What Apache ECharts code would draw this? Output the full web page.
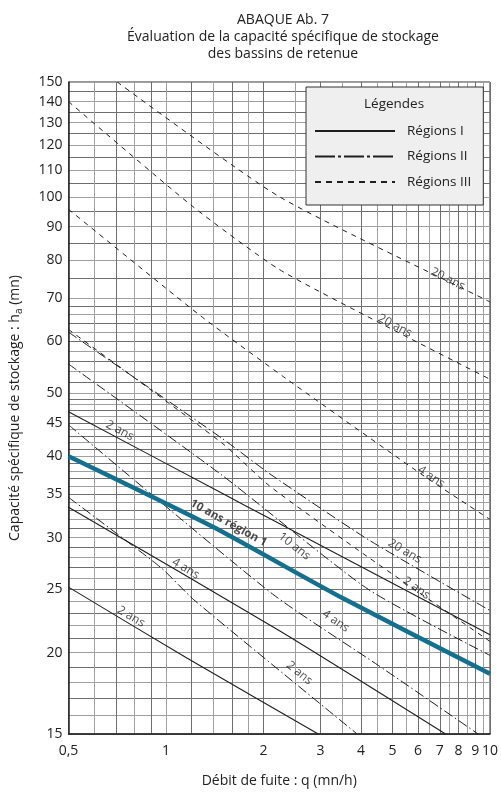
<!DOCTYPE html>
<html><head><meta charset="utf-8">
<script src="https://cdn.jsdelivr.net/npm/echarts@6/dist/echarts.min.js"></script>
<style>html,body{margin:0;padding:0;background:#fff}#c{width:501px;height:793px}</style>
</head><body><div id="c"></div>
<script>
// ---- tick labels ----
const xLabels = [0.5, 1, 2, 3, 4, 5, 6, 7, 8, 9, 10];
const yLabels = [15, 20, 25, 30, 35, 40, 45, 50, 60, 70, 80, 90, 100, 110, 120, 130, 140, 150];
// ---- grid lines ----
const xGrid = [0.5, 0.6, 0.7, 0.8, 0.9, 1, 1.2, 1.4, 1.6, 1.8, 2, 2.5, 3, 3.5, 4, 4.5, 5, 5.5, 6, 6.5, 7, 7.5, 8, 8.5, 9, 9.5, 10];
const yGrid = [15, 16, 17, 18, 19, 20, 21, 22, 23, 24, 25, 26, 27, 28, 29, 30, 31, 32, 33, 34, 35, 36, 37, 38, 39, 40,
  41, 42, 43, 44, 45, 46, 47, 48, 49, 50, 52, 54, 56, 58, 60, 62, 64, 66, 68, 70, 75, 80, 85, 90, 95, 100,
  105, 110, 115, 120, 125, 130, 135, 140, 145, 150];

// ---- curves : [q (mn/h), h_a (mn)] ----
// Régions I (solid)
const r1_2ansUpper = [[0.5, 46.8], [1.49, 35.1], [2.09, 32.1], [10, 21.3]];
const r1_10ans = [[0.5, 40], [1.39, 31.2], [3.42, 24.4], [10, 18.56]];
const r1_4ans = [[0.5, 33.4], [2.24, 21.6], [7.29, 15]];
const r1_2ans = [[0.5, 25.2], [1.163, 19.6], [2.95, 15]];
// Régions II (dash-dot)
const r2_20ans = [[0.5, 62.0], [1.49, 42.6], [2.09, 37.6], [4.21, 29.8], [10, 23.2]];
const r2_10ans = [[0.5, 55.4], [1.49, 37.4], [4.21, 25.0], [10, 19.8]];
const r2_4ans = [[0.5, 44.7], [2.13, 24.6], [4.53, 19.1], [9.19, 15]];
const r2_2ans = [[0.5, 34.6], [0.964, 27.0], [1.218, 24.1], [3.89, 15]];
// Régions III (dashed)
const r3_20ansA = [[0.707, 150], [2.225, 100.2], [9.82, 69.3], [10, 69.0]];
const r3_20ansB = [[0.5, 140], [1.204, 96.8], [2.215, 77.6], [4.53, 64.2], [10, 52.5]];
const r3_4ans = [[0.5, 95.7], [1.277, 65.7], [2.35, 52.6], [6.21, 37.4], [10, 32.0]];
const r3_2ans = [[0.5, 62.6], [1.49, 41.9], [2.09, 36.0], [4.21, 28.0], [10, 20.8]];

// ---- curve labels : [q, h, text, curve] ----
const curveLabels = [
  [7.41, 74.8, '20 ans', 'r3_20ansA'],
  [5.09, 63.4, '20 ans', 'r3_20ansB'],
  [6.59, 37.2, '4 ans', 'r3_4ans'],
  [0.72, 43.8, '2 ans', 'r1_2ansUpper'],
  [2.49, 29.1, '10 ans', 'r2_10ans'],
  [5.46, 28.6, '20 ans', 'r2_20ans'],
  [5.93, 25.1, '2 ans', 'r3_2ans'],
  [1.56, 31.6, '10 ans région 1', 'r1_10ans'],
  [1.15, 26.9, '4 ans', 'r1_4ans'],
  [3.34, 22.35, '4 ans', 'r2_4ans'],
  [0.78, 22.7, '2 ans', 'r1_2ans'],
  [2.58, 18.6, '2 ans', 'r2_2ans']
];

const INK = '#1e1e1e';
const BLUE = '#127190';
const DASHDOT = [10, 3, 1.5, 3];
const DASH = [5, 5];
const curveDefs = [
  ['r1_2ansUpper', r1_2ansUpper, 'Régions I'],
  ['r1_4ans', r1_4ans, 'Régions I'],
  ['r1_2ans', r1_2ans, 'Régions I'],
  ['r2_20ans', r2_20ans, 'Régions II'],
  ['r2_10ans', r2_10ans, 'Régions II'],
  ['r2_4ans', r2_4ans, 'Régions II'],
  ['r2_2ans', r2_2ans, 'Régions II'],
  ['r3_20ansA', r3_20ansA, 'Régions III'],
  ['r3_20ansB', r3_20ansB, 'Régions III'],
  ['r3_4ans', r3_4ans, 'Régions III'],
  ['r3_2ans', r3_2ans, 'Régions III'],
  ['r1_10ans', r1_10ans, 'blue']
];
const curveByKey = {};
curveDefs.forEach(d => curveByKey[d[0]] = d[1]);

function styleFor(region) {
  if (region === 'Régions I') return { color: INK, width: 1.1, type: 'solid' };
  if (region === 'Régions II') return { color: INK, width: 1, type: DASHDOT };
  if (region === 'Régions III') return { color: INK, width: 1, type: DASH };
  return { color: BLUE, width: 4.5, type: 'solid' };
}

function fmt(v) {
  const r = Math.round(v * 10) / 10;
  return String(r).replace('.', ',');
}

const FONT = 'Open Sans';
function buildOption(rotations) {
  const series = curveDefs.map(d => ({
    type: 'line',
    name: d[2] === 'blue' ? '10 ans région 1' : d[2],
    data: d[1],
    smooth: 0.2,
    symbol: 'none',
    silent: true,
    clip: true,
    lineStyle: styleFor(d[2]),
    itemStyle: { color: d[2] === 'blue' ? BLUE : INK },
    z: d[2] === 'blue' ? 4 : 3
  }));
  series.push({
    type: 'scatter',
    name: 'labels',
    symbolSize: 0,
    silent: true,
    z: 6,
    data: curveLabels.map((l, i) => ({
      value: [l[0], l[1]],
      label: {
        show: true, position: 'inside', formatter: l[2],
        rotate: rotations ? rotations[i] : 0,
        fontWeight: l[2].indexOf('région') >= 0 ? 'bold' : 'normal',
        fontSize: l[2].indexOf('région') >= 0 ? 11.5 : 12
      }
    })),
    label: { show: true, color: '#222', fontSize: 12, fontFamily: FONT }
  });
  return {
    animation: false,
    backgroundColor: '#fff',
    title: {
      text: 'ABAQUE Ab. 7\nÉvaluation de la capacité spécifique de stockage\ndes bassins de retenue',
      left: 278, top: 7, textAlign: 'center',
      textStyle: { fontFamily: FONT, fontSize: 14, fontWeight: 'normal', color: '#222', lineHeight: 17 }
    },
    legend: {
      orient: 'vertical', left: 306, top: 87,
      padding: [37, 12, 16, 8], itemGap: 11.5, itemWidth: 80, itemHeight: 14,
      backgroundColor: '#efefef', borderColor: '#333', borderWidth: 1,
      itemStyle: { opacity: 0, color: 'rgba(0,0,0,0)', borderWidth: 0 },
      textStyle: { fontFamily: FONT, fontSize: 13.5, color: '#222', padding: [0, 0, 0, 7] },
      data: [
        { name: 'Régions I', lineStyle: { width: 2 } },
        { name: 'Régions II', lineStyle: { type: [20, 3, 3, 3] } },
        { name: 'Régions III', lineStyle: { type: [6, 5] } }
      ],
      selectedMode: false, z: 10
    },
    graphic: [{
      type: 'text', left: 364, top: 97, z: 100,
      style: { text: 'Légendes', fontFamily: FONT, fontSize: 13.5, fill: '#222' }
    }],
    grid: { left: 67, right: 8, top: 82, bottom: 56, show: true, borderColor: '#333', borderWidth: 1, backgroundColor: 'transparent' },
    xAxis: {
      type: 'log', logBase: 10, min: 0.5, max: 10,
      name: 'Débit de fuite : q (mn/h)', nameLocation: 'middle', nameGap: 40,
      nameTextStyle: { fontFamily: FONT, fontSize: 14, color: '#222' },
      axisLine: { show: true, lineStyle: { color: '#222', width: 1.5 } },
      axisTick: { show: false, customValues: xGrid },
      axisLabel: { customValues: xLabels, formatter: fmt, fontFamily: FONT, fontSize: 14, color: '#222', margin: 10 },
      splitLine: { show: true, customValues: xGrid, lineStyle: { color: ['#6e6e6e', '#a0a0a0'], width: 1 } },
      minorSplitLine: { show: false }
    },
    yAxis: {
      type: 'log', logBase: 10, min: 15, max: 150,
      name: '{n|Capacité spécifique de stockage : h}{s|a}{n| (mn)}',
      nameLocation: 'middle', nameGap: 44, nameRotate: 90,
      nameTextStyle: {
        fontFamily: FONT, fontSize: 14, color: '#222',
        rich: {
          n: { fontFamily: FONT, fontSize: 14, color: '#222', lineHeight: 19 },
          s: { fontFamily: FONT, fontSize: 10, color: '#222', lineHeight: 11, verticalAlign: 'bottom' }
        }
      },
      axisLine: { show: true, lineStyle: { color: '#222', width: 1.5 } },
      axisTick: { show: false, customValues: yGrid },
      axisLabel: { customValues: yLabels, formatter: fmt, fontFamily: FONT, fontSize: 14, color: '#222', margin: 6 },
      splitLine: { show: true, customValues: yGrid, lineStyle: { color: ['#6e6e6e', '#a0a0a0'], width: 1 } },
      minorSplitLine: { show: false }
    },
    series: series
  };
}

const chart = echarts.init(document.getElementById('c'), null, { renderer: 'canvas' });
chart.setOption(buildOption(null));
const rotations = curveLabels.map(l => {
  const c = curveByKey[l[3]];
  let a = c[0], b = c[c.length - 1];
  for (let i = 0; i < c.length - 1; i++) {
    if (l[0] >= c[i][0] && l[0] <= c[i + 1][0]) { a = c[i]; b = c[i + 1]; break; }
  }
  const pa = chart.convertToPixel({ gridIndex: 0 }, a);
  const pb = chart.convertToPixel({ gridIndex: 0 }, b);
  return -Math.atan2(pb[1] - pa[1], pb[0] - pa[0]) * 180 / Math.PI;
});
chart.setOption(buildOption(rotations), true);
</script>
</body></html>
